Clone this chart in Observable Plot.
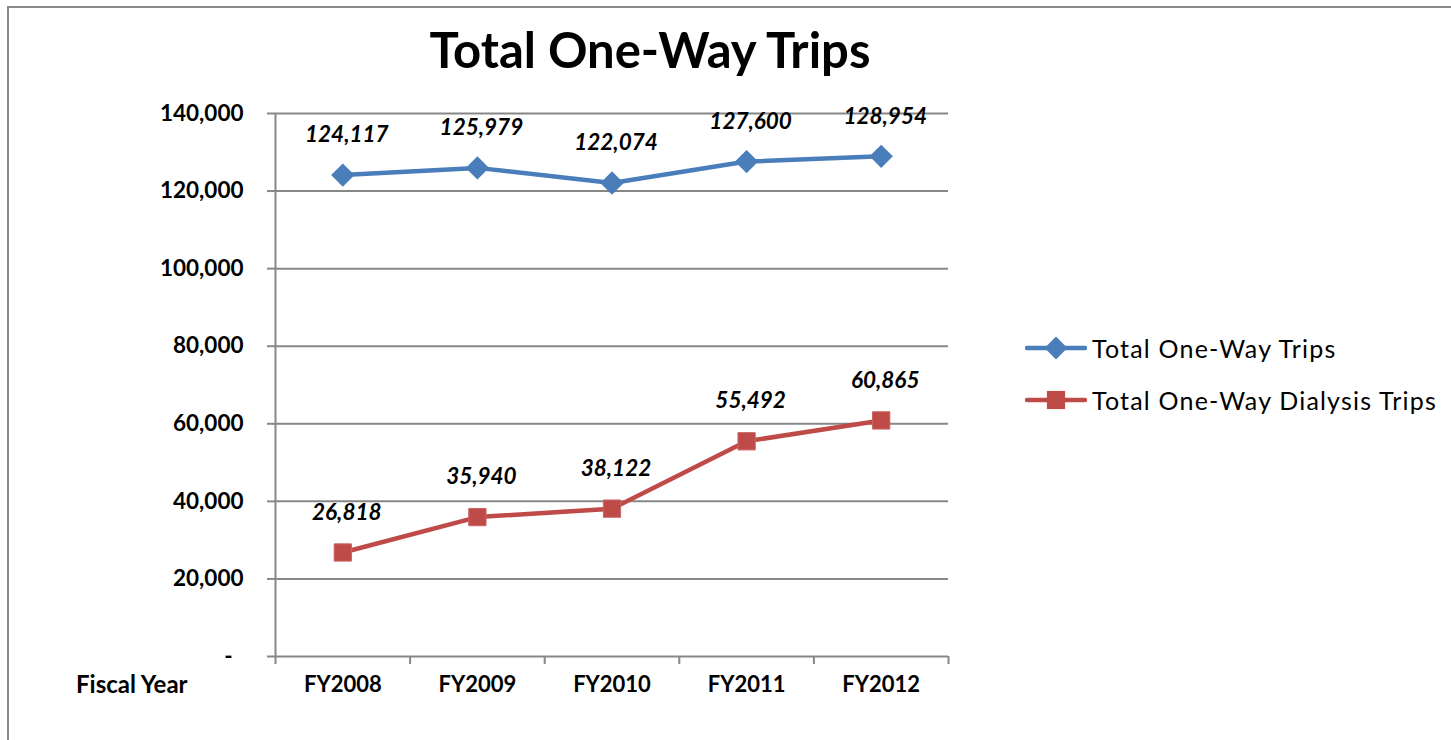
<!DOCTYPE html>
<html>
<head>
<meta charset="utf-8">
<script src="https://cdn.jsdelivr.net/npm/d3@7"></script>
<script src="https://cdn.jsdelivr.net/npm/@observablehq/plot@0.6"></script>
<style>
  html, body { margin: 0; padding: 0; background: #fff; overflow: hidden; }
  #wrap { position: relative; width: 1451px; height: 740px; font-family: Lato, "Open Sans", sans-serif; }
  #frame { position: absolute; left: 7px; top: 6px; width: 1500px; height: 800px; border: 2px solid #8a8a8a; box-sizing: border-box; pointer-events: none; }
  #title { position: absolute; left: 0; width: 1300px; top: 20px; text-align: center; font-size: 49px; font-weight: bold; color: #000; }
  #fy { position: absolute; left: 76px; top: 669px; font-size: 24px; font-weight: bold; color: #000; }
  #legend { position: absolute; left: 1025px; top: 322px; font-size: 25px; letter-spacing: 1.2px; color: #000; }
  .item { display: flex; align-items: center; height: 52px; }
  .item svg { margin-right: 5px; }
  #chart { position: absolute; left: 0; top: 0; }
</style>
</head>
<body>
<div id="wrap">
  <div id="chart"></div>
  <div id="frame"></div>
  <div id="title">Total One-Way Trips</div>
  <div id="fy">Fiscal Year</div>
  <div id="legend"></div>
</div>
<script>
const years = ["FY2008", "FY2009", "FY2010", "FY2011", "FY2012"];
const totalTrips = [124117, 125979, 122074, 127600, 128954];
const dialysisTrips = [26818, 35940, 38122, 55492, 60865];
const yTicks = [0, 20000, 40000, 60000, 80000, 100000, 120000, 140000];
const seriesNames = ["Total One-Way Trips", "Total One-Way Dialysis Trips"];
const seriesColors = ["#4A7EBB", "#BE4B48"];

const idx = years.map((_, i) => i);
const edges = [-0.5, 0.5, 1.5, 2.5, 3.5, 4.5];
const rows = [];
years.forEach((y, i) => {
  rows.push({i, year: y, value: totalTrips[i], series: seriesNames[0]});
  rows.push({i, year: y, value: dialysisTrips[i], series: seriesNames[1]});
});
const blue = rows.filter(d => d.series === seriesNames[0]);
const red = rows.filter(d => d.series === seriesNames[1]);
const fmt = d3.format(",");
const axisColor = "#878787";

const chart = Plot.plot({
  width: 1451,
  height: 740,
  marginLeft: 275,
  marginRight: 503,
  marginTop: 113,
  marginBottom: 84,
  style: {fontFamily: "Lato, 'Open Sans', sans-serif", background: "transparent", color: "#000"},
  x: {type: "linear", domain: [-0.5, 4.5]},
  y: {domain: [0, 140000]},
  marks: [
    Plot.gridY(yTicks.filter(d => d > 0), {stroke: axisColor, strokeOpacity: 1, strokeWidth: 2}),
    Plot.ruleX([-0.5], {stroke: axisColor, strokeWidth: 2}),
    Plot.ruleY([0], {stroke: axisColor, strokeWidth: 2}),
    Plot.axisY(yTicks, {tickSize: 8, tickPadding: 24, stroke: axisColor, strokeWidth: 2, strokeOpacity: 1,
      tickFormat: d => d === 0 ? "-\u00a0\u00a0" : fmt(d), fontSize: 22.5, fontWeight: "bold", fill: "#000", label: null}),
    Plot.axisX(edges, {tickSize: 8, stroke: axisColor, strokeWidth: 2, strokeOpacity: 1, tickFormat: () => "", label: null}),
    Plot.axisX(idx, {tickSize: 0, tickPadding: 20, tickFormat: i => years[i], fontSize: 22, fontWeight: "bold", fill: "#000", label: null}),
    Plot.line(blue, {x: "i", y: "value", stroke: seriesColors[0], strokeWidth: 4.5}),
    Plot.line(red, {x: "i", y: "value", stroke: seriesColors[1], strokeWidth: 4.5}),
    Plot.dot(blue, {x: "i", y: "value", symbol: "diamond2", r: 10.5, fill: seriesColors[0], stroke: null}),
    Plot.dot(red, {x: "i", y: "value", symbol: "square2", r: 11, fill: seriesColors[1], stroke: "#c96562", strokeWidth: 1}),
    Plot.text(rows, {x: "i", y: "value", text: d => fmt(d.value), dx: 4, dy: -40, fontSize: 22.5, fontWeight: "bold", fontStyle: "italic", fill: "#000"})
  ]
});
document.getElementById("chart").appendChild(chart);

// legend
const legend = d3.select("#legend");
seriesNames.forEach((name, k) => {
  const item = legend.append("div").attr("class", "item");
  const svg = item.append("svg").attr("width", 62).attr("height", 24);
  svg.append("line").attr("x1", 2).attr("x2", 60).attr("y1", 12).attr("y2", 12)
    .attr("stroke", seriesColors[k]).attr("stroke-width", 4.5).attr("stroke-linecap", "round");
  if (k === 0) {
    svg.append("path").attr("d", d3.symbol(d3.symbolDiamond2, 330)()).attr("transform", "translate(31,12)").attr("fill", seriesColors[k]);
  } else {
    svg.append("path").attr("d", d3.symbol(d3.symbolSquare2, 420)()).attr("transform", "translate(31,12)").attr("fill", seriesColors[k]);
  }
  item.append("span").text(name);
});
</script>
</body>
</html>
